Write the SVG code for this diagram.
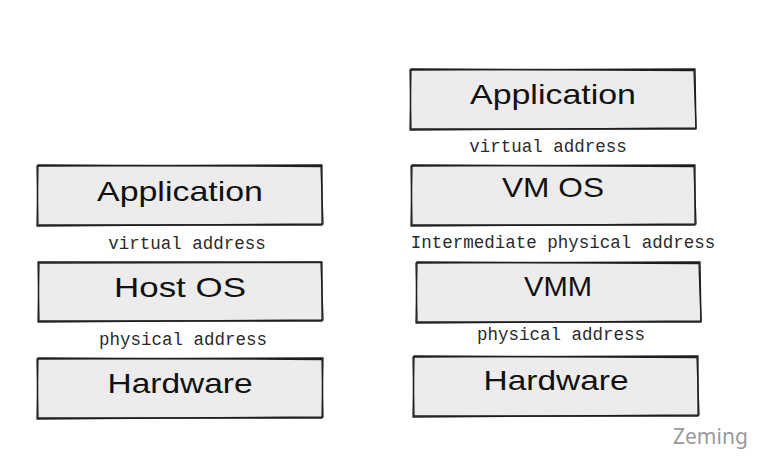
<svg xmlns="http://www.w3.org/2000/svg" width="757" height="458" viewBox="0 0 757 458">
<style>
.bg{fill:#ececec;stroke:none}
.sk{fill:none;stroke:#1e1e1e;stroke-width:1.3;stroke-linecap:round;stroke-linejoin:round}
.hand{font-family:"Liberation Sans","DejaVu Sans",sans-serif;font-size:28px;fill:#111;text-anchor:middle}
.mono{font-family:"Liberation Mono","DejaVu Sans Mono",monospace;font-size:17.5px;fill:#2a2a2a;text-anchor:middle}
.sig{font-family:"Noto Sans","DejaVu Sans",sans-serif;font-size:21px;fill:#9a9a9a}
</style>
<rect width="757" height="458" fill="#ffffff"/>
<g id="left-application">
<rect class="bg" x="37" y="165" width="285" height="60"/>
<path class="sk" d="M37 166 L322 165 L322 225 L38 225 Z"/>
<path class="sk" d="M38 165 L321 166.5 L323 224 L37 226 Z"/>
<text class="hand" x="180" y="201" textLength="166" lengthAdjust="spacingAndGlyphs">Application</text>
</g>
<g id="left-hostos">
<rect class="bg" x="38" y="262" width="284" height="59"/>
<path class="sk" d="M38 262 L322 262 L322 321 L39 321 Z"/>
<path class="sk" d="M39 263 L321 262.5 L323 320 L38 322 Z"/>
<text class="hand" x="180" y="297" textLength="132" lengthAdjust="spacingAndGlyphs">Host OS</text>
</g>
<g id="left-hardware">
<rect class="bg" x="37" y="358" width="286" height="60"/>
<path class="sk" d="M37 359 L323 358 L322 418 L38 418 Z"/>
<path class="sk" d="M38 358 L322 359.5 L323 417 L37 419 Z"/>
<text class="hand" x="180" y="393" textLength="145" lengthAdjust="spacingAndGlyphs">Hardware</text>
</g>
<g id="right-application">
<rect class="bg" x="410" y="69" width="286" height="60"/>
<path class="sk" d="M410 70 L695 69 L696 129 L411 129 Z"/>
<path class="sk" d="M411 69 L694 70.5 L696 128 L410 130 Z"/>
<text class="hand" x="553" y="104" textLength="166" lengthAdjust="spacingAndGlyphs">Application</text>
</g>
<g id="right-vmos">
<rect class="bg" x="411" y="165" width="284" height="60"/>
<path class="sk" d="M411 166 L695 165 L695 225 L412 225 Z"/>
<path class="sk" d="M412 165 L694 166.5 L696 224 L411 226 Z"/>
<text class="hand" x="553" y="197" textLength="102" lengthAdjust="spacingAndGlyphs">VM OS</text>
</g>
<g id="right-vmm">
<rect class="bg" x="416" y="262" width="285" height="60"/>
<path class="sk" d="M416 263 L700 262 L701 322 L417 322 Z"/>
<path class="sk" d="M417 262 L699 263.5 L701 321 L416 323 Z"/>
<text class="hand" x="558" y="296" textLength="68" lengthAdjust="spacingAndGlyphs">VMM</text>
</g>
<g id="right-hardware">
<rect class="bg" x="413" y="356" width="285" height="60"/>
<path class="sk" d="M413 357 L698 356 L698 416 L414 416 Z"/>
<path class="sk" d="M414 356 L697 357.5 L699 415 L413 417 Z"/>
<text class="hand" x="556" y="390" textLength="145" lengthAdjust="spacingAndGlyphs">Hardware</text>
</g>
<g id="labels">
<text class="mono" x="187" y="249">virtual address</text>
<text class="mono" x="183" y="345">physical address</text>
<text class="mono" x="548" y="152">virtual address</text>
<text class="mono" x="563" y="248">Intermediate physical address</text>
<text class="mono" x="561" y="340">physical address</text>
</g>
<g id="connectors"></g>
<text class="sig" x="673" y="444">Zeming</text>
</svg>
